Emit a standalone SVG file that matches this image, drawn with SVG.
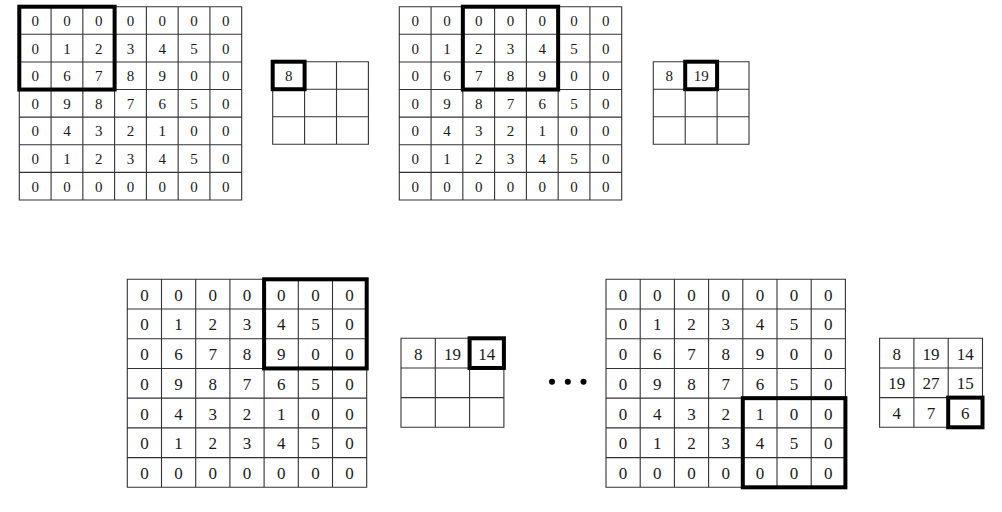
<svg xmlns="http://www.w3.org/2000/svg" xmlns:xlink="http://www.w3.org/1999/xlink" width="1002" height="512" viewBox="0 0 1002 512">
<style>
.g{fill:none;stroke:#333;stroke-width:1.1}
.k{fill:none;stroke:#000;stroke-width:4}
.t{font-family:"Liberation Serif","DejaVu Serif",serif;font-size:15px;fill:#1a1a1a;text-anchor:middle}
.b{font-size:17px}
</style>
<defs>
<path id="gridT" d="M0 0H222.4V193.3H0Z M31.77 0V193.3 M63.54 0V193.3 M95.31 0V193.3 M127.08 0V193.3 M158.85 0V193.3 M190.62 0V193.3 M0 27.61H222.4 M0 55.23H222.4 M0 82.84H222.4 M0 110.46H222.4 M0 138.07H222.4 M0 165.69H222.4"/>
<path id="gridB" d="M0 0H239.4V208H0Z M34.2 0V208 M68.4 0V208 M102.6 0V208 M136.8 0V208 M171 0V208 M205.2 0V208 M0 29.71H239.4 M0 59.43H239.4 M0 89.14H239.4 M0 118.86H239.4 M0 148.57H239.4 M0 178.29H239.4"/>
<path id="outT" d="M0 0H95.7V82.6H0Z M31.9 0V82.6 M63.8 0V82.6 M0 27.53H95.7 M0 55.07H95.7"/>
<path id="outB" d="M0 0H102.9V89H0Z M34.3 0V89 M68.6 0V89 M0 29.67H102.9 M0 59.33H102.9"/>
<g id="numsT" class="t">
<text x="15.9" y="19.4">0</text><text x="47.7" y="19.4">0</text><text x="79.4" y="19.4">0</text><text x="111.2" y="19.4">0</text><text x="143" y="19.4">0</text><text x="174.7" y="19.4">0</text><text x="206.5" y="19.4">0</text>
<text x="15.9" y="47">0</text><text x="47.7" y="47">1</text><text x="79.4" y="47">2</text><text x="111.2" y="47">3</text><text x="143" y="47">4</text><text x="174.7" y="47">5</text><text x="206.5" y="47">0</text>
<text x="15.9" y="74.6">0</text><text x="47.7" y="74.6">6</text><text x="79.4" y="74.6">7</text><text x="111.2" y="74.6">8</text><text x="143" y="74.6">9</text><text x="174.7" y="74.6">0</text><text x="206.5" y="74.6">0</text>
<text x="15.9" y="102.2">0</text><text x="47.7" y="102.2">9</text><text x="79.4" y="102.2">8</text><text x="111.2" y="102.2">7</text><text x="143" y="102.2">6</text><text x="174.7" y="102.2">5</text><text x="206.5" y="102.2">0</text>
<text x="15.9" y="129.8">0</text><text x="47.7" y="129.8">4</text><text x="79.4" y="129.8">3</text><text x="111.2" y="129.8">2</text><text x="143" y="129.8">1</text><text x="174.7" y="129.8">0</text><text x="206.5" y="129.8">0</text>
<text x="15.9" y="157.4">0</text><text x="47.7" y="157.4">1</text><text x="79.4" y="157.4">2</text><text x="111.2" y="157.4">3</text><text x="143" y="157.4">4</text><text x="174.7" y="157.4">5</text><text x="206.5" y="157.4">0</text>
<text x="15.9" y="185.1">0</text><text x="47.7" y="185.1">0</text><text x="79.4" y="185.1">0</text><text x="111.2" y="185.1">0</text><text x="143" y="185.1">0</text><text x="174.7" y="185.1">0</text><text x="206.5" y="185.1">0</text>
</g>
<g id="numsB" class="t b">
<text x="17.1" y="21.5">0</text><text x="51.3" y="21.5">0</text><text x="85.5" y="21.5">0</text><text x="119.7" y="21.5">0</text><text x="153.9" y="21.5">0</text><text x="188.1" y="21.5">0</text><text x="222.3" y="21.5">0</text>
<text x="17.1" y="51.2">0</text><text x="51.3" y="51.2">1</text><text x="85.5" y="51.2">2</text><text x="119.7" y="51.2">3</text><text x="153.9" y="51.2">4</text><text x="188.1" y="51.2">5</text><text x="222.3" y="51.2">0</text>
<text x="17.1" y="80.9">0</text><text x="51.3" y="80.9">6</text><text x="85.5" y="80.9">7</text><text x="119.7" y="80.9">8</text><text x="153.9" y="80.9">9</text><text x="188.1" y="80.9">0</text><text x="222.3" y="80.9">0</text>
<text x="17.1" y="110.6">0</text><text x="51.3" y="110.6">9</text><text x="85.5" y="110.6">8</text><text x="119.7" y="110.6">7</text><text x="153.9" y="110.6">6</text><text x="188.1" y="110.6">5</text><text x="222.3" y="110.6">0</text>
<text x="17.1" y="140.3">0</text><text x="51.3" y="140.3">4</text><text x="85.5" y="140.3">3</text><text x="119.7" y="140.3">2</text><text x="153.9" y="140.3">1</text><text x="188.1" y="140.3">0</text><text x="222.3" y="140.3">0</text>
<text x="17.1" y="170.1">0</text><text x="51.3" y="170.1">1</text><text x="85.5" y="170.1">2</text><text x="119.7" y="170.1">3</text><text x="153.9" y="170.1">4</text><text x="188.1" y="170.1">5</text><text x="222.3" y="170.1">0</text>
<text x="17.1" y="199.8">0</text><text x="51.3" y="199.8">0</text><text x="85.5" y="199.8">0</text><text x="119.7" y="199.8">0</text><text x="153.9" y="199.8">0</text><text x="188.1" y="199.8">0</text><text x="222.3" y="199.8">0</text>
</g>
</defs>
<rect width="1002" height="512" fill="#fff"/>

<g id="input1" transform="translate(19.3,6.7)">
<use xlink:href="#gridT" class="g"/>
<use xlink:href="#numsT"/>
<rect class="k" x="0" y="0" width="95.31" height="82.84"/>
</g>
<g id="output1" transform="translate(272.7,61.7)">
<use xlink:href="#outT" class="g"/>
<text class="t" x="15.95" y="19.4">8</text>
<rect class="k" x="0" y="0" width="31.9" height="27.53"/>
</g>

<g id="input2" transform="translate(399.3,6.7)">
<use xlink:href="#gridT" class="g"/>
<use xlink:href="#numsT"/>
<rect class="k" x="63.54" y="0" width="95.31" height="82.84"/>
</g>
<g id="output2" transform="translate(653.3,61.7)">
<use xlink:href="#outT" class="g"/>
<text class="t" x="15.95" y="19.4">8</text>
<text class="t" x="47.85" y="19.4">19</text>
<rect class="k" x="31.9" y="0" width="31.9" height="27.53"/>
</g>

<g id="input3" transform="translate(127.3,279.3)">
<use xlink:href="#gridB" class="g"/>
<use xlink:href="#numsB"/>
<rect class="k" x="136.8" y="0" width="102.6" height="89.14"/>
</g>
<g id="output3" transform="translate(401,338.3)">
<use xlink:href="#outB" class="g"/>
<text class="t b" x="17.15" y="21.5">8</text>
<text class="t b" x="51.45" y="21.5">19</text>
<text class="t b" x="85.75" y="21.5">14</text>
<rect class="k" x="68.6" y="0" width="34.3" height="29.67"/>
</g>

<g id="ellipsis" fill="#000">
<circle cx="552" cy="381.7" r="3"/>
<circle cx="567.8" cy="381.7" r="3"/>
<circle cx="583.5" cy="381.7" r="3"/>
</g>

<g id="input4" transform="translate(606,279.3)">
<use xlink:href="#gridB" class="g"/>
<use xlink:href="#numsB"/>
<rect class="k" x="136.8" y="118.86" width="102.6" height="89.14"/>
</g>
<g id="output4" transform="translate(879.6,338.3)">
<use xlink:href="#outB" class="g"/>
<text class="t b" x="17.15" y="21.5">8</text>
<text class="t b" x="51.45" y="21.5">19</text>
<text class="t b" x="85.75" y="21.5">14</text>
<text class="t b" x="17.15" y="51.2">19</text>
<text class="t b" x="51.45" y="51.2">27</text>
<text class="t b" x="85.75" y="51.2">15</text>
<text class="t b" x="17.15" y="80.9">4</text>
<text class="t b" x="51.45" y="80.9">7</text>
<text class="t b" x="85.75" y="80.9">6</text>
<rect class="k" x="68.6" y="59.33" width="34.3" height="29.67"/>
</g>

<g id="connectors"></g>
</svg>
